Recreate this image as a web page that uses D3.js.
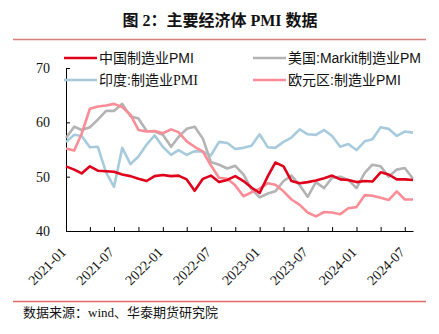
<!DOCTYPE html>
<html><head><meta charset="utf-8">
<script src="https://cdn.jsdelivr.net/npm/d3@7"></script>
<style>body{margin:0;background:#fff}</style>
</head><body><svg id="c" width="439" height="334"></svg>
<script>
// Monthly data, Dec 2020 .. Jul 2024 (month-end dates)
const startMonth = "2020-12";
const endMonth = "2024-07";
const china = [51.9,51.3,50.6,51.9,51.1,51.0,50.9,50.4,50.1,49.6,49.2,50.1,50.3,
  50.1,50.2,49.5,47.4,49.6,50.2,49.0,49.4,50.1,49.2,48.0,47.0,
  50.1,52.6,51.9,49.2,48.8,49.0,49.3,49.7,50.2,49.5,49.4,49.0,
  49.2,49.1,50.8,50.4,49.5,49.5,49.4];
const us = [57.1,59.2,58.6,59.1,60.5,62.1,62.1,63.4,61.1,60.7,58.4,58.3,57.7,
  55.5,57.3,58.8,59.2,57.0,52.7,52.2,51.5,52.0,50.4,47.7,46.2,
  46.9,47.3,49.2,50.2,48.4,46.3,49.0,47.9,49.8,50.0,49.4,47.9,
  50.7,52.2,51.9,50.0,51.3,51.6,49.6];
const india = [56.4,57.7,57.5,55.4,55.5,50.8,48.1,55.3,52.3,53.7,55.9,57.6,55.5,
  54.0,54.9,54.0,54.7,54.6,53.9,56.4,56.2,55.1,55.3,55.7,57.8,
  55.4,55.3,56.4,57.2,58.7,57.8,57.7,58.6,57.5,55.5,56.0,54.9,
  56.5,56.9,59.1,58.8,57.5,58.3,58.1];
const euro = [55.2,54.8,57.9,62.5,62.9,63.1,63.4,62.8,61.4,58.6,58.3,58.4,58.0,
  58.7,58.2,56.5,55.5,54.6,52.1,49.8,49.6,48.4,46.4,47.1,47.8,
  48.8,48.5,47.3,45.8,44.8,43.4,42.7,43.5,43.4,43.1,44.2,44.4,
  46.6,46.5,46.1,45.7,47.3,45.8,45.8];
const seriesNames = ["中国制造业PMI","印度:制造业PMI","美国:Markit制造业PM","欧元区:制造业PMI"];
const yTicks = [40,50,60,70];
const xLabels = ["2021-01","2021-07","2022-01","2022-07","2023-01","2023-07","2024-01","2024-07"];
const titleText = "图 2：主要经济体 PMI 数据";
const sourceText = "数据来源：wind、华泰期货研究院";

const svg = d3.select("#c");
svg.append("rect").attr("width",439).attr("height",334).attr("fill","#fff");

const parseM = d3.utcParse("%Y-%m");
const dates = d3.utcMonth.range(parseM(startMonth), d3.utcMonth.offset(parseM(endMonth),1)).map(d => d3.utcMonth.offset(d,1));

const L = 66, R = 413, T = 68, B = 231;
const x = d3.scaleUtc().domain([dates[0], dates[dates.length-1]]).range([L, R]);
const y = d3.scaleLinear().domain([40,70]).range([B, T]);

const serif = "'Times New Roman','Liberation Serif','Noto Serif CJK SC',serif";
const sans = "'Liberation Sans',Arial,'Noto Sans CJK SC',sans-serif";

svg.append("text").attr("x",220).attr("y",26).attr("text-anchor","middle")
  .attr("font-family","'Liberation Serif','Noto Sans CJK SC',serif").attr("font-weight","bold")
  .attr("font-size",16).attr("fill","#111").text(titleText);
svg.append("line").attr("x1",13).attr("x2",426).attr("y1",39.5).attr("y2",39.5)
  .attr("stroke","#d4807b").attr("stroke-width",1.5);
svg.append("line").attr("x1",13).attr("x2",426).attr("y1",301.5).attr("y2",301.5)
  .attr("stroke","#e06a6a").attr("stroke-width",1.5);
svg.append("text").attr("x",23).attr("y",317).attr("font-family","'Liberation Serif','Noto Sans CJK SC',serif")
  .attr("font-size",13).attr("fill","#111").text(sourceText);

const tickDates = d3.utcMonth.every(3).range(parseM("2021-01"), d3.utcMonth.offset(parseM("2024-07"),1));
const xAxis = d3.axisBottom(x).tickValues(tickDates).tickSizeInner(-4).tickSizeOuter(0).tickFormat("");
const gx = svg.append("g").attr("transform",`translate(0,${B})`).call(xAxis);
gx.selectAll("path,line").attr("stroke","#000");

const yAxis = d3.axisLeft(y).tickValues(yTicks).tickSizeInner(-4).tickSizeOuter(0).tickPadding(16);
const gy = svg.append("g").attr("transform",`translate(${L},0)`).call(yAxis);
gy.selectAll("path,line").attr("stroke","#000");
gy.selectAll("text").attr("font-family",serif).attr("font-size",14).attr("fill","#111");

svg.append("g").selectAll("text").data(xLabels).join("text")
  .attr("transform", d => `translate(${x(parseM(d))+1},${B+22}) rotate(-45)`)
  .attr("text-anchor","end").attr("font-family",serif).attr("font-size",14).attr("fill","#111")
  .text(d => d);

const colors = {china:"#e0001b", india:"#a7cbdc", us:"#b3b3b3", euro:"#fc8d96"};
const line = d3.line().x((d,i) => x(dates[i])).y(d => y(d));
[["india",india],["us",us],["euro",euro],["china",china]].forEach(([k,v]) => {
  svg.append("path").datum(v).attr("d",line).attr("fill","none")
    .attr("stroke",colors[k]).attr("stroke-width",2.6).attr("stroke-linejoin","round");
});

const leg = [
  {name:seriesNames[0], c:colors.china, x1:64, x2:97, y:58},
  {name:seriesNames[1], c:colors.india, x1:64, x2:97, y:80},
  {name:seriesNames[2], c:colors.us, x1:253, x2:286, y:58},
  {name:seriesNames[3], c:colors.euro, x1:253, x2:286, y:80}
];
leg.forEach((l,i) => {
  svg.append("line").attr("x1",l.x1).attr("x2",l.x2).attr("y1",l.y).attr("y2",l.y)
    .attr("stroke",l.c).attr("stroke-width",2.6);
  const t = svg.append("text").attr("x",l.x2+2).attr("y",l.y+5).attr("font-family",sans)
    .attr("font-size",14).attr("fill","#111");
  if (i === 1) {
    t.append("tspan").text(l.name.replace("PMI",""));
    t.append("tspan").attr("font-family",serif).text("PMI");
  } else t.text(l.name);
});
</script></body></html>
